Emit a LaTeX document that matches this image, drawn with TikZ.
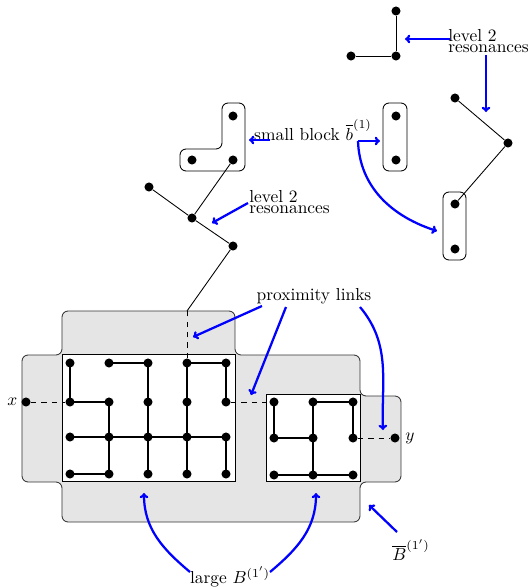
\documentclass[tikz,border=0pt]{standalone}
\usetikzlibrary{arrows.meta}
\begin{document}
\begin{tikzpicture}[x=0.575pt,y=-0.575pt,
  dot/.style={circle,fill=black,inner sep=0pt,minimum size=5.2pt},
  thinline/.style={line width=0.5pt},
  gridedge/.style={line width=1.5pt},
  linkdash/.style={line width=0.5pt,dashed},
  barrow/.style={draw=blue,line width=1.3pt,-{To[length=3pt,width=5pt]}},
  twoline/.style={align=left,inner sep=0pt,font=\fontsize{10pt}{6.4pt}\selectfont},
  lbl/.style={inner sep=1pt},
  blockbox/.style={draw=black,line width=0.5pt,rounded corners=3.5pt}]
\useasboundingbox (0,0) rectangle (530,588);

% gray region B-bar
\draw[fill=gray!20,draw=black!80,line width=0.5pt,rounded corners=3.5pt]
  (22,355) -- (62,355) -- (62,311) -- (235,311) -- (235,355) -- (360,355)
  -- (360,396) -- (401,396) -- (401,482) -- (360,482) -- (360,522)
  -- (62,522) -- (62,482) -- (22,482) -- cycle;
% large and small blocks
\draw[fill=white,thinline] (62,354) rectangle (235,481);
\draw[fill=white,thinline] (266,394) rectangle (360,481);

% large grid
\foreach \c/\x in {1/70,2/109,3/148,4/187,5/226}
  \foreach \r/\y in {1/363,2/402,3/437,4/474}
    \node[dot] (a\r\c) at (\x,\y) {};
% small grid
\foreach \c/\x in {1/274,2/313,3/353}
  \foreach \r/\y in {1/402,2/438,3/475}
    \node[dot] (b\r\c) at (\x,\y) {};

\draw[gridedge] (a11.center) -- (a21.center) -- (a22.center) -- (a42.center);
\draw[gridedge] (a12.center) -- (a13.center) -- (a43.center);
\draw[gridedge] (a45.center) -- (a35.center);
\draw[gridedge] (a25.center) -- (a15.center) -- (a14.center) -- (a44.center);
\draw[gridedge] (a31.center) -- (a35.center);
\draw[gridedge] (a41.center) -- (a42.center);

\draw[gridedge] (b11.center) -- (b21.center) -- (b22.center);
\draw[gridedge] (b32.center) -- (b12.center) -- (b13.center) -- (b23.center);
\draw[gridedge] (b31.center) -- (b33.center);

% x and y
\node[dot] (xp) at (26,402) {};
\node[dot] (yp) at (395,438) {};
\node[anchor=east,inner sep=2pt] (xl) at (xp.west) {$x$};
\node[anchor=west,inner sep=3pt] (yl) at (yp.east) {$y$};
\draw[linkdash] (xp) -- (a21);
\draw[linkdash] (a25) -- (b11);
\draw[linkdash] (b23) -- (yp);
\coordinate (topc) at (187,311);
\draw[linkdash] (a14) -- (topc);

% top structures
\node[dot] (t1) at (396,11) {};
\node[dot] (t2) at (396,56) {};
\node[dot] (t3) at (351,56) {};
\draw[thinline] (t1) -- (t2) -- (t3);

\node[dot] (m1) at (396,116) {};
\node[dot] (m2) at (396,160) {};
\draw[blockbox] (383,103) rectangle (407,171);

\node[dot] (l1) at (233,116) {};
\node[dot] (l2) at (233,160) {};
\node[dot] (l3) at (192,160) {};
\draw[blockbox] (222,103) -- (245,103) -- (245,171) -- (180,171) -- (180,149) -- (222,149) -- cycle;

\node[dot] (c1) at (149,187) {};
\node[dot] (c2) at (192,218) {};
\node[dot] (c3) at (233,246) {};
\draw[thinline] (c1) -- (c2) -- (c3) -- (topc);
\draw[thinline] (l2) -- (c2);

\node[dot] (r1) at (455,98) {};
\node[dot] (r2) at (508,143) {};
\node[dot] (r3) at (455,204) {};
\node[dot] (r4) at (455,249) {};
\draw[thinline] (r1) -- (r2) -- (r3);
\draw[blockbox] (443,192) rectangle (466,260);

% labels
\node[twoline,anchor=north west] (lev1) at (448,29) {level 2\\resonances};
\node[twoline,anchor=north west] (lev2) at (249,190) {level 2\\resonances};
\node[lbl] (sb) at (313,130) {small block $\overline{b}^{(1)}$};
\node[lbl] (prox) at (314,296) {proximity links};
\node[lbl] (lg) at (230,577) {large $B^{(1')}$};
\node[lbl] (Bb) at (411,550) {$\overline{B}^{(1')}$};

% blue arrows
\coordinate (a1s) at (450,39);  \coordinate (a1e) at (405,39);
\draw[barrow] (a1s) -- (a1e);
\coordinate (a2s) at (486,55);  \coordinate (a2e) at (486,112);
\draw[barrow] (a2s) -- (a2e);
\coordinate (a3s) at (270,140); \coordinate (a3e) at (249,140);
\draw[barrow] (a3s) -- (a3e);
\coordinate (a4s) at (358,141); \coordinate (a4e) at (380,141);
\draw[barrow] (a4s) -- (a4e);
\coordinate (a5e) at (437,231);
\draw[barrow] (a4s) to[out=-88,in=162] (a5e);
\coordinate (a6s) at (248,203); \coordinate (a6e) at (212,223);
\draw[barrow] (a6s) -- (a6e);
\coordinate (p1s) at (262,306); \coordinate (p1e) at (193,337);
\draw[barrow] (p1s) -- (p1e);
\coordinate (p2s) at (286,307); \coordinate (p2e) at (251,395);
\draw[barrow] (p2s) -- (p2e);
\coordinate (p3s) at (360,307); \coordinate (p3e) at (383,430);
\draw[barrow] (p3s) to[out=-50,in=92] (p3e);
\coordinate (g1s) at (190,572); \coordinate (g1e) at (144,493);
\draw[barrow] (g1s) to[out=140,in=-90] (g1e);
\coordinate (g2s) at (270,572); \coordinate (g2e) at (316,493);
\draw[barrow] (g2s) to[out=40,in=-90] (g2e);
\coordinate (bbs) at (397,532); \coordinate (bbe) at (369,505);
\draw[barrow] (bbs) -- (bbe);
\end{tikzpicture}
\end{document}
